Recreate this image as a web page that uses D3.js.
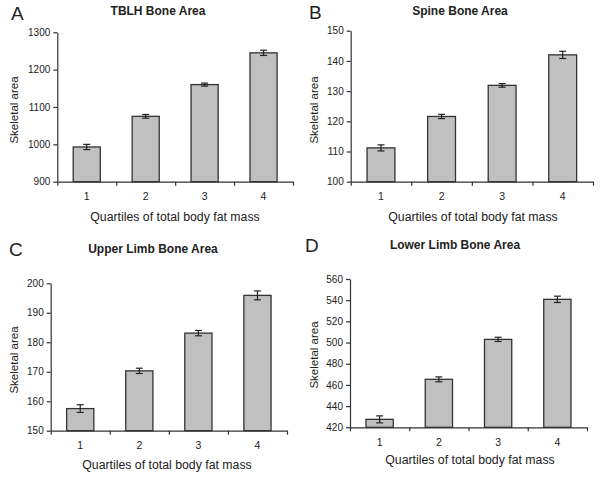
<!DOCTYPE html>
<html><head><meta charset="utf-8">
<script src="https://cdn.jsdelivr.net/npm/d3@7"></script>
<style>body{margin:0;background:#fff}svg{display:block}text{font-family:"Liberation Sans",Arial,sans-serif;fill:#222}</style>
</head><body>
<svg id="c" width="601" height="477"></svg>
<script>
const categories = ["1","2","3","4"];
const tblhValues = [993, 1075, 1160, 1245];
const tblhErrors = [7, 5, 4, 7];
const tblhTicks = [900, 1000, 1100, 1200, 1300];
const spineValues = [111.2, 121.6, 131.9, 142.0];
const spineErrors = [1.0, 0.7, 0.6, 1.2];
const spineTicks = [100, 110, 120, 130, 140, 150];
const upperValues = [157.5, 170.3, 183.1, 195.9];
const upperErrors = [1.3, 0.9, 0.9, 1.5];
const upperTicks = [150, 160, 170, 180, 190, 200];
const lowerValues = [427.5, 465.3, 503.0, 540.8];
const lowerErrors = [3.3, 2.3, 2.0, 3.0];
const lowerTicks = [420, 440, 460, 480, 500, 520, 540, 560];
const titles = ["TBLH Bone Area", "Spine Bone Area", "Upper Limb Bone Area", "Lower Limb Bone Area"];
const letters = ["A", "B", "C", "D"];
const yLabel = "Skeletal area";
const xLabel = "Quartiles of total body fat mass";

const panels = [
  {values: tblhValues, errors: tblhErrors, ticks: tblhTicks, x0: 57.3, x1: 293, yT: 32.3, yB: 181.7,
   title: [158, 15], letter: [11, 20], ylab: [18, 110], xlab: [175, 221], xt: 200},
  {values: spineValues, errors: spineErrors, ticks: spineTicks, x0: 350.7, x1: 593, yT: 30.7, yB: 181.7,
   title: [460, 15], letter: [309, 18.5], ylab: [318, 110], xlab: [473, 221], xt: 200},
  {values: upperValues, errors: upperErrors, ticks: upperTicks, x0: 50.7, x1: 287, yT: 283.3, yB: 430.7,
   title: [153, 253], letter: [9, 255.5], ylab: [18, 360], xlab: [167, 469], xt: 449},
  {values: lowerValues, errors: lowerErrors, ticks: lowerTicks, x0: 350, x1: 587, yT: 279, yB: 427.3,
   title: [455, 249], letter: [305, 252], ylab: [318, 355], xlab: [470, 464], xt: 446}
];

const svg = d3.select("#c");
panels.forEach((p, i) => {
  const g = svg.append("g");
  const x = d3.scaleBand().domain(categories).range([p.x0, p.x1]).paddingInner(0.54).paddingOuter(0.27);
  const xl = d3.scaleLinear().domain([0, categories.length]).range([p.x0, p.x1]);
  const y = d3.scaleLinear().domain([p.ticks[0], p.ticks[p.ticks.length - 1]]).range([p.yB, p.yT]);

  g.selectAll("rect.bar").data(p.values).join("rect").attr("class", "bar")
    .attr("x", (d, j) => x(categories[j])).attr("width", x.bandwidth())
    .attr("y", d => y(d)).attr("height", d => y(p.ticks[0]) - y(d))
    .attr("fill", "#c0c0c0").attr("stroke", "#333").attr("stroke-width", 1.3);

  const cx = j => x(categories[j]) + x.bandwidth() / 2;
  const eb = g.selectAll("g.err").data(p.values).join("g").attr("class", "err");
  eb.append("line").attr("x1", (d, j) => cx(j)).attr("x2", (d, j) => cx(j))
    .attr("y1", (d, j) => y(d - p.errors[j])).attr("y2", (d, j) => y(d + p.errors[j]));
  eb.append("line").attr("x1", (d, j) => cx(j) - 3.5).attr("x2", (d, j) => cx(j) + 3.5)
    .attr("y1", (d, j) => y(d + p.errors[j])).attr("y2", (d, j) => y(d + p.errors[j]));
  eb.append("line").attr("x1", (d, j) => cx(j) - 3.5).attr("x2", (d, j) => cx(j) + 3.5)
    .attr("y1", (d, j) => y(d - p.errors[j])).attr("y2", (d, j) => y(d - p.errors[j]));
  eb.selectAll("line").attr("stroke", "#222").attr("stroke-width", 1.2);

  const ya = g.append("g").attr("transform", `translate(${p.x0},0)`)
    .call(d3.axisLeft(y).tickValues(p.ticks).tickFormat(d3.format("d")).tickSize(4).tickSizeOuter(0).tickPadding(3));
  ya.selectAll("text").style("font-size", "10px").style("font-family", "'Liberation Sans',Arial,sans-serif");
  g.append("g").attr("transform", `translate(0,${p.yB})`)
    .call(d3.axisBottom(xl).tickValues(d3.range(categories.length + 1)).tickSize(4).tickSizeOuter(0).tickFormat(""));
  g.selectAll(".domain, .tick line").attr("stroke", "#333").attr("stroke-width", 1.2);

  g.selectAll("text.cat").data(categories).join("text").attr("class", "cat")
    .attr("x", d => x(d) + x.bandwidth() / 2).attr("y", p.xt)
    .attr("text-anchor", "middle").style("font-size", "10.5px").text(d => d);

  g.append("text").attr("x", p.title[0]).attr("y", p.title[1]).attr("text-anchor", "middle")
    .style("font-size", "12px").style("font-weight", "bold").text(titles[i]);
  g.append("text").attr("x", p.letter[0]).attr("y", p.letter[1])
    .style("font-size", "19px").text(letters[i]);
  g.append("text").attr("transform", `translate(${p.ylab[0]},${p.ylab[1]}) rotate(-90)`)
    .attr("text-anchor", "middle").style("font-size", "11.5px").text(yLabel);
  g.append("text").attr("x", p.xlab[0]).attr("y", p.xlab[1]).attr("text-anchor", "middle")
    .style("font-size", "12.3px").text(xLabel);
});
</script>
</body></html>
